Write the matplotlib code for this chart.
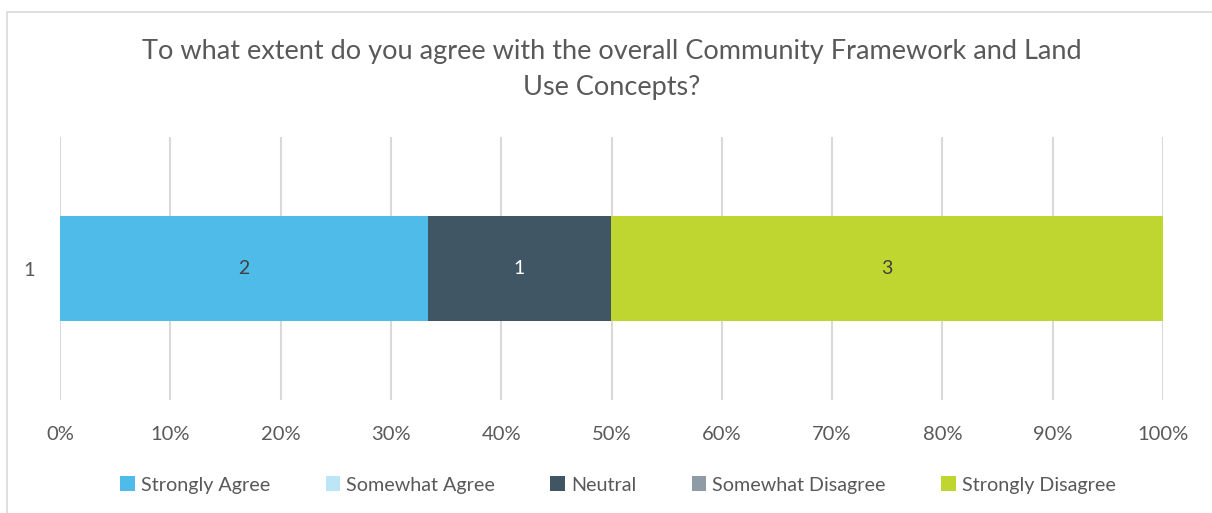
import matplotlib.pyplot as plt
from matplotlib.patches import Rectangle

# Survey responses for the single question
categories = ['Strongly Agree', 'Somewhat Agree', 'Neutral', 'Somewhat Disagree', 'Strongly Disagree']
counts = [2, 0, 1, 0, 3]
colors = ['#4FBBE9', '#BDE5F8', '#415664', '#8F9CA5', '#BFD630']
label_colors = ['#404040', '#404040', '#FFFFFF', '#404040', '#404040']
row_labels = ['1']
xtick_values = [0, 10, 20, 30, 40, 50, 60, 70, 80, 90, 100]

TEXT = '#595959'
GRID = '#D9D9D9'
plt.rcParams['font.family'] = ['Lato', 'DejaVu Sans']

fig = plt.figure(figsize=(12.12, 5.13), dpi=100)
W, H = 1212, 513

# chart-area border (runs off the right and bottom edges)
fig.patches.append(Rectangle((7 / W, -0.2), 1.2, 1.2 - 12 / H, transform=fig.transFigure,
                             facecolor='none', edgecolor=GRID, linewidth=1.2))

ax = fig.add_axes([60 / W, 1 - 400 / H, 1103 / W, 263 / H])

total = sum(counts)
left = 0.0
for cat, n, col, lc in zip(categories, counts, colors, label_colors):
    pct = n / total * 100
    ax.barh(0, pct, left=left, height=0.403, color=col, label=cat, zorder=2)
    if n > 0:
        ax.text(left + pct / 2, 0, str(n), ha='center', va='center',
                fontsize=14, color=lc, zorder=3)
    left += pct

ax.set_xlim(0, 100)
ax.set_ylim(-0.5, 0.5)
ax.set_xticks(xtick_values)
ax.set_xticklabels([f'{v}%' for v in xtick_values])
ax.set_yticks([0])
ax.set_yticklabels(row_labels)
ax.tick_params(length=0, labelsize=14.5, labelcolor=TEXT)
ax.tick_params(axis='x', pad=19)
ax.tick_params(axis='y', pad=18)
ax.grid(axis='x', color=GRID, linewidth=1.5, zorder=0)
for s in ax.spines.values():
    s.set_visible(False)

fig.text(612 / W, 1 - 70 / H,
         'To what extent do you agree with the overall Community Framework and Land\nUse Concepts?',
         ha='center', va='center', fontsize=19.5, color=TEXT, linespacing=1.55)

fig.legend(loc='center', bbox_to_anchor=(618 / W, 1 - 485 / H), ncol=5,
           frameon=False, fontsize=14.2, labelcolor=TEXT,
           handlelength=0.75, handleheight=0.75, handletextpad=0.3, columnspacing=2.8)

fig.savefig('out.png', dpi=100)
